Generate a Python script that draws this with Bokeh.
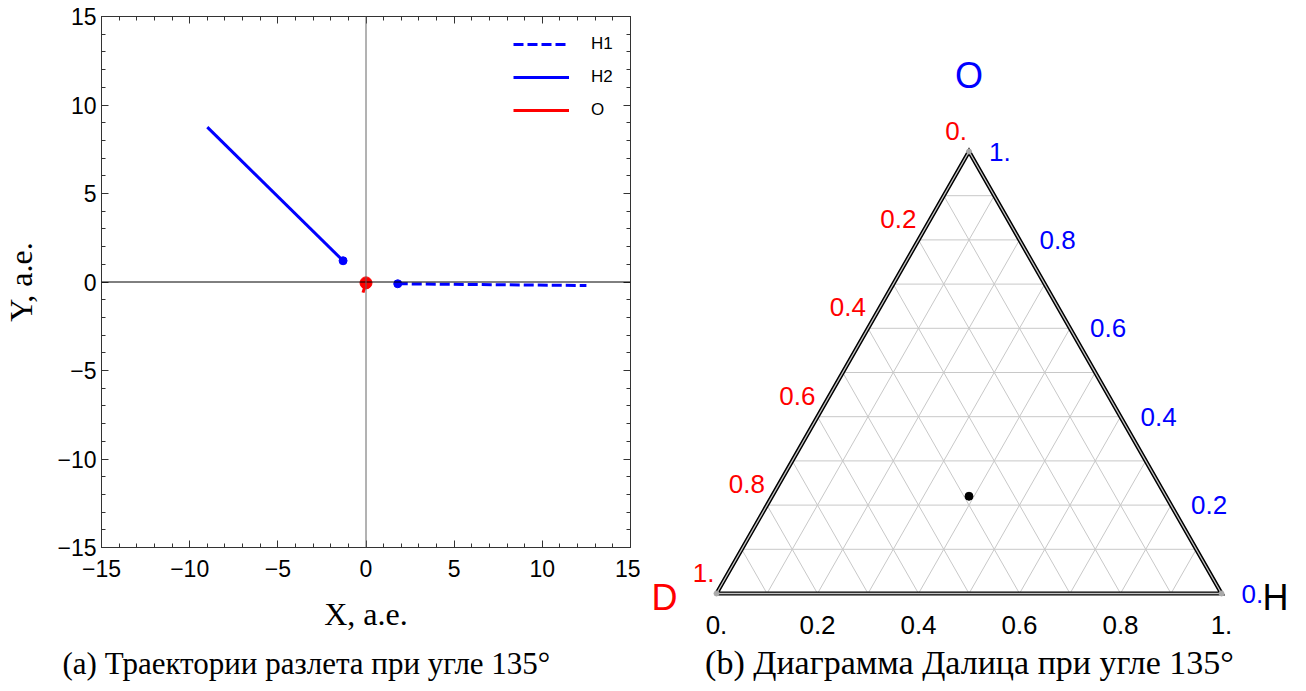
import math
from bokeh.plotting import figure
from bokeh.models import (Span, Legend, LegendItem, LinearAxis, FixedTicker,
                          Label, Range1d, Title)
from bokeh.layouts import row, column
from bokeh.embed import file_html
from bokeh.resources import INLINE
from bokeh.core.properties import value

# ---------------- data: trajectories (a) ----------------
h1_x = [1.8, 12.5]
h1_y = [-0.1, -0.2]
h2_x = [-1.3, -9.0]
h2_y = [1.2, 8.75]
o_x = [0.0, -0.17]
o_y = [-0.05, -0.6]
axis_major_ticks = [-15, -10, -5, 0, 5, 10, 15]
axis_minor_ticks = [-14, -13, -12, -11, -9, -8, -7, -6, -4, -3, -2, -1,
                    1, 2, 3, 4, 6, 7, 8, 9, 11, 12, 13, 14]
axis_tick_labels = {-15: "\u221215", -10: "\u221210", -5: "\u22125",
                    0: "0", 5: "5", 10: "10", 15: "15"}

# ---------------- data: Dalitz diagram (b) ----------------
dalitz_H = [0.39]
dalitz_O = [0.22]
dalitz_D = [0.39]
tern_ticks = [0.0, 0.2, 0.4, 0.6, 0.8, 1.0]
tern_tick_labels = ["0.", "0.2", "0.4", "0.6", "0.8", "1."]
tern_grid = [0.1, 0.2, 0.3, 0.4, 0.5, 0.6, 0.7, 0.8, 0.9]

SQ = math.sqrt(3) / 2
SANS = "Liberation Sans"
SERIF = "Liberation Serif"
FRAME = "#333333"

# ================= panel (a) =================
p1 = figure(width=640, height=691, x_range=Range1d(-15, 15), y_range=Range1d(-15, 15),
            output_backend="svg", toolbar_location=None,
            min_border_left=99, min_border_right=10, min_border_top=16, min_border_bottom=144)
p1.grid.visible = False
p1.outline_line_color = FRAME
p1.outline_line_width = 1


def style_axis(ax, labels=True):
    ax.ticker = FixedTicker(ticks=axis_major_ticks, minor_ticks=axis_minor_ticks)
    ax.major_tick_in = 7
    ax.major_tick_out = 0
    ax.minor_tick_in = 4
    ax.minor_tick_out = 0
    ax.axis_line_color = FRAME
    ax.major_tick_line_color = FRAME
    ax.minor_tick_line_color = FRAME
    if labels:
        ax.major_label_text_font = SANS
        ax.major_label_text_font_size = "23px"
        ax.major_label_text_color = "black"
        ax.major_label_overrides = axis_tick_labels
    else:
        ax.major_label_text_font_size = "1px"
        ax.major_label_text_color = None
        ax.major_label_standoff = 0


style_axis(p1.xaxis[0])
style_axis(p1.yaxis[0])
p1.xaxis[0].major_label_standoff = 12
p1.yaxis[0].major_label_standoff = 5
p1.xaxis.axis_label = "X, a.e."
p1.yaxis.axis_label = "Y, a.e."
for ax in (p1.xaxis[0], p1.yaxis[0]):
    ax.axis_label_text_font = SERIF
    ax.axis_label_text_font_size = "32px"
    ax.axis_label_text_font_style = "normal"
    ax.axis_label_text_color = "black"
p1.xaxis[0].axis_label_standoff = 16
p1.yaxis[0].axis_label_standoff = 15

rax = LinearAxis()
style_axis(rax, labels=False)
p1.add_layout(rax, "right")
tax = LinearAxis()
style_axis(tax, labels=False)
p1.add_layout(tax, "above")

p1.add_layout(Span(location=0, dimension="width", line_color="black", line_width=1))
p1.add_layout(Span(location=0, dimension="height", line_color="#666666", line_width=1))

r_h1 = p1.line(h1_x, h1_y, line_color="blue", line_width=3, line_dash="10 4")
p1.scatter(h1_x[:1], h1_y[:1], size=8, color="blue")
r_h2 = p1.line(h2_x, h2_y, line_color="blue", line_width=3)
p1.scatter(h2_x[:1], h2_y[:1], size=8, color="blue")
r_o = p1.line(o_x, o_y, line_color="red", line_width=3)
p1.scatter(o_x[:1], o_y[:1], size=12, color="red")

legend = Legend(items=[LegendItem(label="H1", renderers=[r_h1]),
                       LegendItem(label="H2", renderers=[r_h2]),
                       LegendItem(label="O", renderers=[r_o])],
                location=(412, 427), glyph_width=56, glyph_height=20, label_height=20,
                spacing=13, padding=0, margin=0, border_line_color=None,
                background_fill_alpha=0, label_text_font=SANS, label_text_color="black",
                label_text_font_size="17px", label_standoff=22)
p1.add_layout(legend)

p1.add_layout(Title(text="(a) Траектории разлета при угле 135°", align="left", offset=-39,
                    standoff=19, text_font=SERIF, text_font_size="31px",
                    text_font_style="normal", text_color="black"), "below")

# ================= panel (b) =================
SX = 505.0
SY = 442.0 / SQ
p2 = figure(width=666, height=691,
            x_range=Range1d(-76 / SX, (666 - 76) / SX),
            y_range=Range1d(-(691 - 593) / SY, 593 / SY),
            x_axis_type=None, y_axis_type=None, output_backend="svg",
            toolbar_location=None, min_border=0)
p2.outline_line_color = None

# grid lines
gx, gy = [], []
for v in tern_grid:
    gx.append([0.5 * v, 1 - 0.5 * v]); gy.append([SQ * v, SQ * v])            # const O
    gx.append([v, v + 0.5 * (1 - v)]); gy.append([0, SQ * (1 - v)])          # const H
    gx.append([1 - v, 0.5 * (1 - v)]); gy.append([0, SQ * (1 - v)])          # const D
p2.multi_line(gx, gy, line_color="#c8c8c8", line_width=1)

# border (double line)
tri_x = [0, 1, 0.5, 0]
tri_y = [0, 0, SQ, 0]
p2.line(tri_x, tri_y, line_color="black", line_width=4.2, line_join="miter")
p2.line(tri_x, tri_y, line_color="#c4c4c4", line_width=1.3, line_join="miter")
p2.scatter(tri_x[:3], tri_y[:3], size=5, color="#aaaaaa")

# point
px = [h + o / 2 for h, o in zip(dalitz_H, dalitz_O)]
py = [o * SQ for o in dalitz_O]
p2.scatter(px, py, size=8, color="black")

LBL = "26px"
# bottom (H) labels
p2.text(x=tern_ticks, y=[0] * len(tern_ticks), text=tern_tick_labels,
        text_align="center", text_baseline="alphabetic", y_offset=31,
        text_font=value(SANS), text_font_size=LBL, text_color="black")
# left (D) labels, red: D=0 at top, 1 at bottom-left
p2.text(x=[0.5 * (1 - v) for v in tern_ticks], y=[SQ * (1 - v) for v in tern_ticks],
        text=tern_tick_labels, text_align="right", text_baseline="alphabetic",
        x_offset=-2, y_offset=-21,
        text_font=value(SANS), text_font_size=LBL, text_color="red")
# right (O) labels, blue: O=0 at bottom-right, 1 at top
p2.text(x=[1 - 0.5 * v for v in tern_ticks], y=[SQ * v for v in tern_ticks],
        text=tern_tick_labels, text_align="left", text_baseline="alphabetic",
        x_offset=20, y_offset=0,
        text_font=value(SANS), text_font_size=LBL, text_color="blue")

# corner labels
p2.text(x=[0.5], y=[SQ], text=["O"], text_align="center", text_baseline="alphabetic",
        y_offset=-76, text_font=value(SANS), text_font_size="36px", text_color="blue")
p2.text(x=[0], y=[0], text=["D"], text_align="right", text_baseline="alphabetic",
        x_offset=-39, y_offset=4, text_font=value(SANS), text_font_size="36px",
        text_color="red")
p2.text(x=[1], y=[0], text=["H"], text_align="left", text_baseline="alphabetic",
        x_offset=41, y_offset=4, text_font=value(SANS), text_font_size="36px",
        text_color="black")

p2.add_layout(Label(x=329, y=29, x_units="screen", y_units="screen",
                    text="(b) Диаграмма Далица при угле 135°", text_align="center",
                    text_baseline="alphabetic", text_font=SERIF, text_font_size="34px",
                    text_color="black"))

layout = row(p1, column(p2), spacing=0)
open("out.html", "w").write(file_html(layout, INLINE))
